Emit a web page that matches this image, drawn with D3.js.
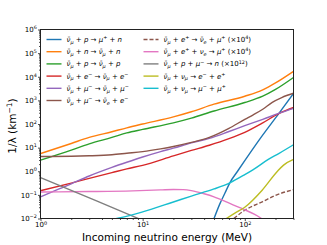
<!DOCTYPE html>
<html>
<head>
<meta charset="utf-8">
<script src="https://cdn.jsdelivr.net/npm/d3@7"></script>
<style>
  body { margin: 0; background: #fff; }
  svg { display: block; font-family: "DejaVu Sans", sans-serif; }
  text { white-space: pre; }
</style>
</head>
<body>
<svg id="chart" width="327" height="245"></svg>
<script>
// energies in MeV, values in km^-1
const eBlue = [50, 57, 64, 71.4, 85, 100, 138, 215, 300];
const vBlue = [0.01, 0.0417, 0.12, 0.324, 1.0, 2.82, 20.9, 275, 1950];

const eOrange = [1, 2, 3, 5, 7, 10, 20, 30, 50, 100, 150, 200, 300];
const vOrange = [5.6, 15, 27, 47, 69, 100, 200, 330, 690, 1500, 2800, 5500, 17000];

const eGreen = [1, 2, 3, 5, 7, 10, 20, 30, 50, 100, 150, 200, 300];
const vGreen = [2.95, 7.9, 14.5, 27, 42, 59, 112, 178, 355, 810, 1500, 2900, 9300];

const eRed = [1, 2, 3, 5, 7, 10, 20, 30, 45, 70, 100, 150, 215, 300];
const vRed = [0.151, 0.316, 0.5, 0.87, 1.26, 1.78, 4.47, 7.6, 12.6, 24, 44.7, 112, 275, 500];

const ePurple = [1, 1.5, 2, 3, 5, 7, 10, 15, 20, 30, 45, 70, 100, 150, 215, 300];
const vPurple = [0.083, 0.174, 0.295, 0.63, 1.45, 2.4, 4.0, 6.8, 9.5, 15.8, 24.5, 48, 85, 158, 280, 457];

const eBrown = [1, 2, 3, 5, 7, 10, 15, 20, 30, 45, 70, 100, 120, 150, 186, 230, 300];
const vBrown = [4.2, 4.3, 4.5, 5.0, 5.8, 6.8, 8.9, 11.2, 16.6, 27, 65, 158, 240, 420, 830, 1320, 2000];

const eBrownDash = [78, 100, 150, 200, 300];
const vBrownDash = [0.01, 0.0224, 0.052, 0.0955, 0.166];

const ePink = [1, 3, 8, 15, 20, 25, 30, 40, 50, 65, 80, 100, 125, 150];
const vPink = [0.132, 0.138, 0.148, 0.162, 0.17, 0.166, 0.151, 0.112, 0.083, 0.052, 0.035, 0.0234, 0.0148, 0.0093];

const eGray = [1, 2, 5, 9, 11];
const vGray = [0.537, 0.155, 0.0295, 0.0102, 0.0071];

const eOlive = [66, 80, 100, 148, 209, 240, 300];
const vOlive = [0.01, 0.017, 0.03, 0.158, 1.0, 1.82, 3.16];

const eCyan = [5, 6.6, 10, 20, 30, 50, 71.4, 100, 120, 170, 215, 300];
const vCyan = [0.0093, 0.0117, 0.019, 0.05, 0.089, 0.178, 0.324, 0.72, 1.15, 3.16, 5.6, 13.2];

// legend labels (_{..} subscript, ^{..} superscript)
const labels = [
  'ν̄_{μ} + p → μ^{+} + n',
  'ν̄_{μ} + n → ν̄_{μ} + n',
  'ν̄_{μ} + p → ν̄_{μ} + p',
  'ν̄_{μ} + e^{−} → ν̄_{μ} + e^{−}',
  'ν̄_{μ} + μ^{−} → ν̄_{μ} + μ^{−}',
  'ν̄_{μ} + μ^{−} → ν̄_{e} + e^{−}',
  'ν̄_{μ} + e^{+} → ν̄_{e} + μ^{+} (×10^{4})',
  'ν̄_{μ} + e^{+} + ν_{e} → μ^{+} (×10^{4})',
  'ν̄_{μ} + p + μ^{−} → n (×10^{12})',
  'ν̄_{μ} + ν_{μ} → e^{−} + e^{+}',
  'ν̄_{μ} + ν_{μ} → μ^{−} + μ^{+}'
];

const series = [
  { e: eBlue, v: vBlue, color: '#1f77b4' },
  { e: eOrange, v: vOrange, color: '#ff7f0e' },
  { e: eGreen, v: vGreen, color: '#2ca02c' },
  { e: eRed, v: vRed, color: '#d62728' },
  { e: ePurple, v: vPurple, color: '#9467bd' },
  { e: eBrown, v: vBrown, color: '#8c564b' },
  { e: eBrownDash, v: vBrownDash, color: '#8c564b', dash: '4,2' },
  { e: ePink, v: vPink, color: '#e377c2' },
  { e: eGray, v: vGray, color: '#7f7f7f' },
  { e: eOlive, v: vOlive, color: '#bcbd22' },
  { e: eCyan, v: vCyan, color: '#17becf' }
];
series.forEach((s, i) => { s.label = labels[i]; });

const width = 327, height = 245;
const margin = { top: 29.5, right: 33.5, bottom: 26.5, left: 40.5 };
const plotW = width - margin.left - margin.right;
const plotH = height - margin.top - margin.bottom;

const x = d3.scaleLog().domain([1, 300]).range([0, plotW]);
const y = d3.scaleLog().domain([1e-2, 1e6]).range([plotH, 0]);

const svg = d3.select('#chart');
const chart = svg.append('g').attr('transform', `translate(${margin.left},${margin.top})`);

chart.append('clipPath').attr('id', 'clip')
  .append('rect').attr('width', plotW).attr('height', plotH);

// write text with italic letters, sub- and superscripts
function richText(sel, str, size) {
  const parts = [];
  let buf = '';
  for (let i = 0; i < str.length; i++) {
    const c = str[i];
    if ((c === '_' || c === '^') && str[i + 1] === '{') {
      if (buf) parts.push({ t: buf, m: 0 });
      buf = '';
      const j = str.indexOf('}', i);
      parts.push({ t: str.slice(i + 2, j), m: c === '_' ? 1 : -1 });
      i = j;
    } else buf += c;
  }
  if (buf) parts.push({ t: buf, m: 0 });
  let shift = 0;
  parts.forEach(p => {
    const fs = p.m ? size * 0.7 : size;
    const target = p.m === 1 ? size * 0.28 : p.m === -1 ? -size * 0.4 : 0;
    const runs = p.t.match(/[A-Za-z\u03b1-\u03c9\u0304]+|[^A-Za-z\u03b1-\u03c9\u0304]+/g);
    runs.forEach((r, k) => {
      const ts = sel.append('tspan').attr('font-size', fs)
        .attr('font-style', /[A-Za-z\u03b1-\u03c9]/.test(r) ? 'italic' : 'normal')
        .text(r);
      if (k === 0 && target !== shift) { ts.attr('dy', target - shift); shift = target; }
    });
  });
}

// ticks
const decadesX = [1, 10, 100];
const minorX = [];
decadesX.forEach(d => { for (let k = 2; k <= 9; k++) if (d * k <= 300) minorX.push(d * k); });
const decadesY = d3.range(-2, 7).map(p => Math.pow(10, p));
const minorY = [];
decadesY.slice(0, -1).forEach(d => { for (let k = 2; k <= 9; k++) minorY.push(d * k); });

function supLabels(g, sizeBase) {
  g.selectAll('.tick text').each(function (d) {
    const p = Math.round(Math.log10(d));
    const t = d3.select(this).text('');
    t.append('tspan').text('10');
    t.append('tspan').attr('font-size', sizeBase * 0.7).attr('dy', -sizeBase * 0.42)
      .text(p < 0 ? '−' + (-p) : p);
  });
}

const axisStyle = g => {
  g.attr('font-size', 7).attr('font-family', null);
  g.select('.domain').remove();
  g.selectAll('.tick line').attr('stroke', '#000').attr('stroke-width', 0.7);
  g.selectAll('.tick text').attr('fill', '#000');
};

chart.append('g').attr('transform', `translate(0,${plotH})`)
  .call(d3.axisBottom(x).tickValues(minorX).tickSize(1.5).tickFormat(''))
  .call(axisStyle);
chart.append('g').attr('transform', `translate(0,${plotH})`)
  .call(d3.axisBottom(x).tickValues(decadesX).tickSize(2.5).tickPadding(1.5))
  .call(axisStyle)
  .call(g => supLabels(g, 7));

chart.append('g')
  .call(d3.axisLeft(y).tickValues(minorY).tickSize(1.5).tickFormat(''))
  .call(axisStyle);
chart.append('g')
  .call(d3.axisLeft(y).tickValues(decadesY).tickSize(2.5).tickPadding(1.2))
  .call(axisStyle)
  .call(g => supLabels(g, 7));

// curves
const line = d3.line()
  .x(d => x(d[0]))
  .y(d => y(d[1]))
  .curve(d3.curveMonotoneX);

chart.append('g').attr('clip-path', 'url(#clip)')
  .selectAll('path')
  .data(series)
  .enter()
  .append('path')
  .attr('d', s => line(s.e.map((e, i) => [e, s.v[i]])))
  .attr('fill', 'none')
  .attr('stroke', s => s.color)
  .attr('stroke-width', 1.4)
  .attr('stroke-dasharray', s => s.dash || null);

// frame
chart.append('rect')
  .attr('width', plotW).attr('height', plotH)
  .attr('fill', 'none').attr('stroke', '#222').attr('stroke-width', 1);

// legend, two columns
const legend = chart.append('g');
series.forEach((s, i) => {
  const col = i < 6 ? 0 : 1;
  const row = col ? i - 6 : i;
  const lx = col ? 103 : 6;
  const ly = 10 + row * 12.2;
  const item = legend.append('g').attr('transform', `translate(${lx},${ly})`);
  item.append('line').attr('x1', 0).attr('x2', 15)
    .attr('stroke', s.color).attr('stroke-width', 1.4)
    .attr('stroke-dasharray', s.dash || null);
  const t = item.append('text').attr('x', 20).attr('y', 2.4)
    .attr('font-size', 7).attr('fill', '#000');
  richText(t, s.label, 7);
});

// axis titles
svg.append('text')
  .attr('x', margin.left + plotW / 2)
  .attr('y', 241)
  .attr('text-anchor', 'middle')
  .attr('font-size', 10.5)
  .text('Incoming neutrino energy (MeV)');

const yl = svg.append('text')
  .attr('transform', `translate(15.5,${margin.top + plotH / 2 + 2}) rotate(-90)`)
  .attr('text-anchor', 'middle')
  .attr('font-size', 10.5);
yl.append('tspan').text('1/λ (km');
yl.append('tspan').attr('font-size', 7.5).attr('dy', -4).text('−1');
yl.append('tspan').attr('dy', 4).text(')');
</script>
</body>
</html>
